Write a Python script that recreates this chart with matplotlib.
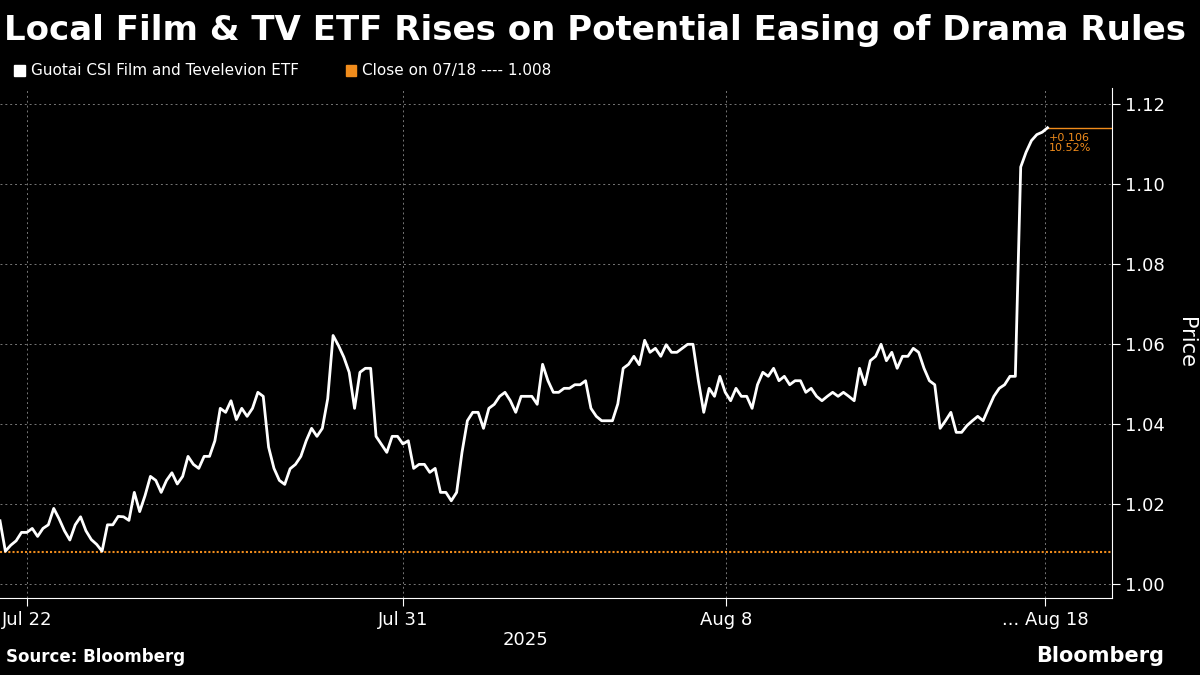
import numpy as np
import matplotlib
matplotlib.use("Agg")
import matplotlib.pyplot as plt

prices = [1.0158,1.0082,1.0097,1.0108,1.0129,1.0129,1.0139,1.0119,1.0139,1.0148,1.0189,1.0163,1.0133,1.0110,1.0148,1.0168,1.0133,1.0111,1.0099,1.0082,
1.0148,1.0148,1.0169,1.0168,1.0159,1.0229,1.0181,1.0221,1.0269,1.0259,1.0229,1.0259,1.0278,1.0250,1.0269,1.0319,1.0299,1.0289,1.0319,1.0319,
1.0358,1.0439,1.0429,1.0458,1.0411,1.0439,1.0419,1.0439,1.0479,1.0469,1.0342,1.0289,1.0259,1.0249,1.0288,1.0299,1.0319,1.0358,1.0389,1.0369,
1.0389,1.0463,1.0621,1.0596,1.0567,1.0529,1.0439,1.0529,1.0539,1.0539,1.0369,1.0349,1.0329,1.0369,1.0369,1.0350,1.0358,1.0289,1.0299,1.0299,
1.0279,1.0289,1.0229,1.0229,1.0208,1.0229,1.0329,1.0408,1.0429,1.0429,1.0389,1.0439,1.0449,1.0469,1.0479,1.0458,1.0429,1.0469,1.0469,1.0469,
1.0449,1.0549,1.0508,1.0479,1.0479,
1.0489,1.0489,1.0498,1.0498,1.0508,1.0439,1.0419,1.0408,1.0408,1.0408,1.0450,1.0539,1.0549,1.0569,1.0548,1.0609,1.0579,1.0589,1.0569,1.0598,
1.0579,1.0579,1.0589,1.0599,1.0599,1.0508,1.0429,1.0489,1.0469,1.0519,1.0479,1.0458,1.0489,1.0469,1.0469,1.0439,1.0498,1.0529,1.0519,1.0539,
1.0508,1.0519,1.0498,1.0508,1.0508,1.0479,1.0489,1.0469,1.0458,1.0469,1.0479,1.0469,1.0479,1.0469,1.0458,1.0539,1.0498,1.0558,1.0569,1.0599,
1.0558,1.0579,1.0539,1.0569,1.0569,1.0589,1.0579,1.0539,1.0508,1.0498,1.0389,1.0408,1.0429,1.0379,1.0379,1.0396,1.0408,1.0419,1.0408,1.0439,
1.0469,1.0489,1.0498,1.0519,1.0519,1.1042,1.1079,1.1108,1.1123,1.1129,1.114]
ref_close = 1.008
change_text = ["+0.106", "10.52%"]
tick_pos = [5.1, 75.1, 135.1, 194.5]
tick_labels = ["Jul 22", "Jul 31", "Aug 8", "... Aug 18"]
y_ticks = [1.00, 1.02, 1.04, 1.06, 1.08, 1.10, 1.12]

bg = "black"
orange = "#f08c1c"
fig = plt.figure(figsize=(12, 6.75), dpi=100, facecolor=bg)
ax = fig.add_axes([0.0, 0.114, 0.9267, 0.756], facecolor=bg)
x = np.arange(len(prices))
ax.plot(x, prices, color="white", lw=2, zorder=3)
ax.axhline(ref_close, color=orange, lw=1.5, ls=(0, (1, 1)), zorder=2)
ax.plot([x[-1], 207], [prices[-1], prices[-1]], color=orange, lw=1, zorder=2)
ax.text(x[-1] + 0.3, prices[-1] - 0.0012, "\n".join(change_text), color=orange,
        fontsize=8, va="top", ha="left", linespacing=1.1)
ax.set_xlim(0, 207)
ax.set_ylim(0.9965, 1.124)
ax.yaxis.tick_right()
ax.yaxis.set_label_position("right")
ax.set_yticks(y_ticks)
ax.set_yticklabels([f"{v:.2f}" for v in y_ticks], color="white", fontsize=13)
ax.set_ylabel("Price", color="white", fontsize=15, rotation=270, labelpad=22)
ax.set_xticks(tick_pos)
ax.set_xticklabels(tick_labels, color="white", fontsize=13)
ax.tick_params(axis="both", colors="white", length=6)
ax.grid(True, color="#777777", ls=(0, (2, 3)), lw=0.7)
for s in ["top", "left"]:
    ax.spines[s].set_visible(False)
ax.spines["right"].set_color("white")
ax.spines["bottom"].set_color("white")
fig.text(0.4375, 0.045, "2025", color="white", fontsize=13, ha="center")

fig.text(0.003, 0.955, "Local Film & TV ETF Rises on Potential Easing of Drama Rules",
         color="white", fontsize=24.5, fontweight="heavy", va="center")
fig.patches.append(plt.Rectangle((0.012, 0.887), 0.009, 0.016, color="white", transform=fig.transFigure))
fig.text(0.026, 0.895, "Guotai CSI Film and Tevelevion ETF", color="white", fontsize=11, va="center")
fig.patches.append(plt.Rectangle((0.288, 0.887), 0.009, 0.016, color=orange, transform=fig.transFigure))
fig.text(0.302, 0.895, "Close on 07/18 ---- 1.008", color="white", fontsize=11, va="center")
fig.text(0.005, 0.02, "Source: Bloomberg", color="white", fontsize=12, fontweight="bold")
fig.text(0.97, 0.02, "Bloomberg", color="white", fontsize=15, fontweight="bold", ha="right")
fig.savefig("out.png", facecolor=bg)
